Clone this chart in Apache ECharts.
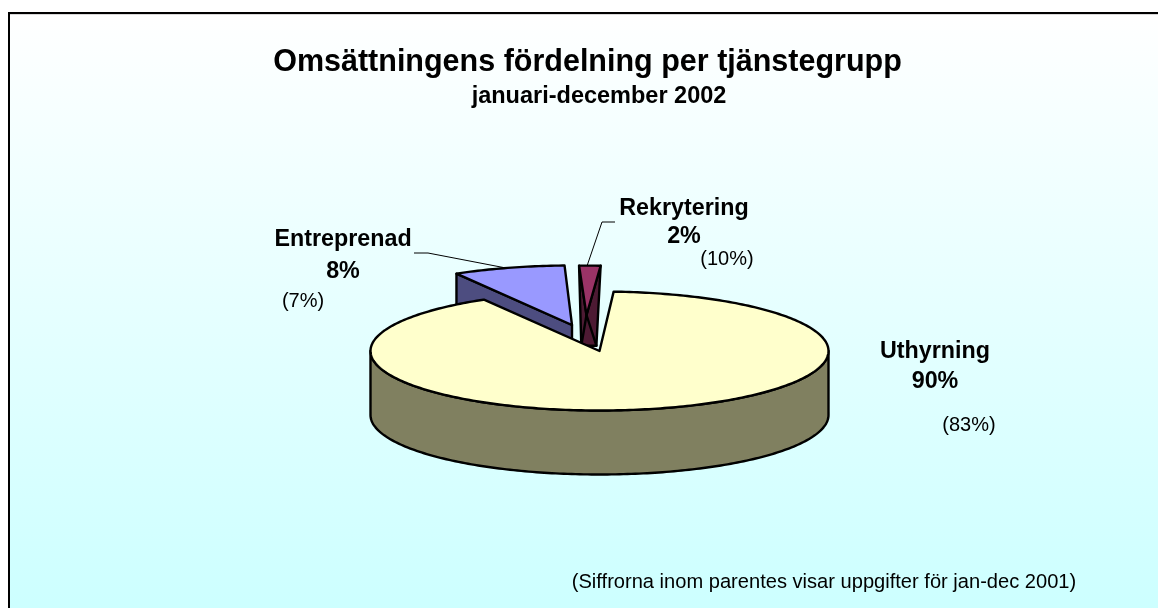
<!DOCTYPE html>
<html>
<head>
<meta charset="utf-8">
<style>html,body{margin:0;padding:0;background:#fff}#c{width:1158px;height:608px}</style>
<script src="https://cdn.jsdelivr.net/npm/echarts@6/dist/echarts.min.js"></script>
</head>
<body>
<div id="c"></div>
<script>
// Data, in clockwise drawing order (exploded back slices first)
const categories = ['Entreprenad', 'Rekrytering', 'Uthyrning'];
const shares = [7.9, 1.5, 90.6];          // wedge sizes
const percentLabels = ['8%', '2%', '90%'];
const previousLabels = ['(7%)', '(10%)', '(83%)'];
const titleText = 'Omsättningens fördelning per tjänstegrupp';
const subtitleText = 'januari-december 2002';
const noteText = '(Siffrorna inom parentes visar uppgifter för jan-dec 2001)';

// Layout / style (not data)
const FONT = '"Liberation Sans", Arial, sans-serif';
const pie = { cx: 599.5, cy: 351, rx: 229, ry: 59.5, depth: 64, startAngle: 329.7 };
const sliceLook = [
  { dx: -27.5, dy: -26, ryScale: 1, drop: 64, taper: 0 },
  { dx: -13, dy: -36, ryScale: 0.83, drop: 80, taper: 0.3 },
  { dx: 0, dy: 0, ryScale: 1, drop: 64, taper: 0 }
];
const topColors = ['#9999FF', '#993366', '#FFFFCC'];
const wallColors = ['#4D4D80', '#4D1A33', '#808060'];
const line = { stroke: '#000', lineWidth: 2.4, lineJoin: 'round' };

const myChart = echarts.init(document.getElementById('c'));
const total = shares.reduce((a, b) => a + b, 0);

function renderSlice(params, api) {
  const i = params.dataIndex;
  const look = sliceLook[i];
  let before = 0;
  for (let k = 0; k < i; k++) before += shares[k];
  const a0 = (pie.startAngle + before / total * 360) % 360;
  const a1 = a0 + api.value(0) / total * 360;
  const ox = pie.cx + look.dx, oy = pie.cy + look.dy;
  const at = (deg, dz) => {
    const r = deg * Math.PI / 180;
    return [ox + pie.rx * Math.sin(r), oy - pie.ry * look.ryScale * Math.cos(r) + (dz || 0)];
  };
  const apex = [ox, oy], apexB = [ox, oy + look.drop];
  const foot = (deg) => {
    const c = at(deg);
    return [c[0] + (ox - c[0]) * look.taper, c[1] + look.drop];
  };
  const arc = [];
  for (let d = a0; d < a1; d += 1) arc.push(at(d));
  arc.push(at(a1));
  const children = [];
  const poly = (points, fill) => children.push({
    type: 'polygon', shape: { points }, style: Object.assign({ fill }, line)
  });
  // cut faces, only those turned toward the viewer
  const showStart = at(a0)[0] < ox, showEnd = at(a1)[0] > ox;
  if (showStart && showEnd) {
    poly([at(a0), foot(a0), foot(a1), at(a1), apex], wallColors[i]);
    poly([apex, foot(a0), foot(a1)], wallColors[i]);
  } else {
    if (showStart) poly([apex, at(a0), foot(a0), apexB], wallColors[i]);
    if (showEnd) poly([apex, at(a1), foot(a1), apexB], wallColors[i]);
  }
  // outer rim: the part of the rim facing front (90 to 270 deg, also one turn later)
  [0, 360].forEach((turn) => {
    const s = Math.max(a0, 90 + turn), e = Math.min(a1, 270 + turn);
    if (e > s) {
      const front = [], back = [];
      for (let d = s; d <= e; d += 1) { front.push(at(d)); back.unshift(at(d, pie.depth)); }
      poly(front.concat(back), wallColors[i]);
    }
  });
  // top face
  poly([apex].concat(arc), topColors[i]);
  return { type: 'group', children };
}

const txt = (text, x, y, size, bold) => ({
  type: 'text', x, y,
  style: { text, fill: '#000', font: (bold ? 'bold ' : '') + size + 'px ' + FONT, align: 'center', verticalAlign: 'middle' }
});

myChart.setOption({
  animation: false,
  graphic: [
    { type: 'rect', shape: { x: 9, y: 13, width: 1170, height: 600 },
      style: { stroke: '#000', lineWidth: 2,
        fill: new echarts.graphic.LinearGradient(0, 0, 0, 1, [
          { offset: 0, color: '#FFFFFF' }, { offset: 1, color: '#CCFFFF' }]) } },
    { type: 'line', shape: { x1: 10, y1: 14.5, x2: 1158, y2: 14.5 }, style: { stroke: '#d8d8d8', lineWidth: 1 } },
    txt(titleText, 587.5, 62.5, 30.5, true),
    txt(subtitleText, 599, 97, 23.5, true),
    txt(categories[1], 684, 208.5, 23.3, true),
    txt(percentLabels[1], 684, 236.5, 23.3, true),
    txt(previousLabels[1], 727, 259, 20, false),
    txt(categories[0], 343, 239.5, 23.3, true),
    txt(percentLabels[0], 343, 271.5, 23.3, true),
    txt(previousLabels[0], 303, 301, 20, false),
    txt(categories[2], 935, 351.5, 23.3, true),
    txt(percentLabels[2], 935, 381.5, 23.3, true),
    txt(previousLabels[2], 969, 425, 20, false),
    txt(noteText, 824, 582, 20.1, false),
    { type: 'polyline', shape: { points: [[414, 253], [428, 253], [506, 268]] }, style: { stroke: '#000', lineWidth: 1, fill: null } },
    { type: 'polyline', shape: { points: [[615, 222], [602, 222], [587, 266]] }, style: { stroke: '#000', lineWidth: 1, fill: null } }
  ],
  series: [{
    type: 'custom',
    coordinateSystem: 'none',
    silent: true,
    renderItem: renderSlice,
    data: shares.map((v, i) => ({ name: categories[i], value: [v] }))
  }]
});
</script>
</body>
</html>
